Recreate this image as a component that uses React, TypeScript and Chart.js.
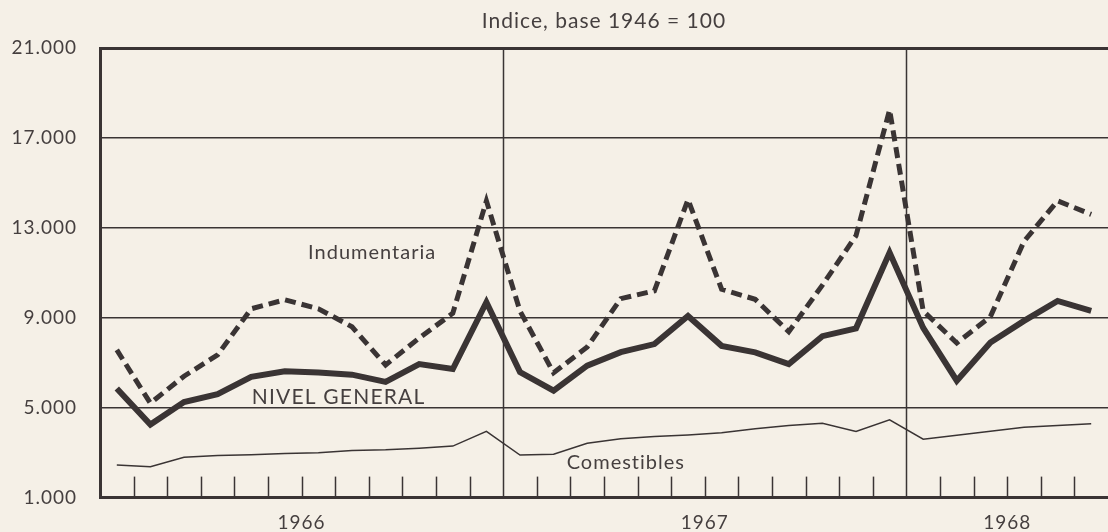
import { useEffect, useRef } from 'react';
import { Chart, registerables } from 'chart.js';

Chart.register(...registerables);

// Monthly categories, Jan 1966 – Jun 1968
const months = [
  'Ene 1966', 'Feb 1966', 'Mar 1966', 'Abr 1966', 'May 1966', 'Jun 1966',
  'Jul 1966', 'Ago 1966', 'Sep 1966', 'Oct 1966', 'Nov 1966', 'Dic 1966',
  'Ene 1967', 'Feb 1967', 'Mar 1967', 'Abr 1967', 'May 1967', 'Jun 1967',
  'Jul 1967', 'Ago 1967', 'Sep 1967', 'Oct 1967', 'Nov 1967', 'Dic 1967',
  'Ene 1968', 'Feb 1968', 'Mar 1968', 'Abr 1968', 'May 1968', 'Jun 1968',
];

const nivelGeneral = [
  5850, 4250, 5250, 5600, 6370, 6620, 6560, 6470, 6150, 6940, 6720, 9690,
  6580, 5760, 6870, 7470, 7830, 9080, 7750, 7460, 6940, 8180, 8530, 11900,
  8550, 6200, 7900, 8860, 9750, 9310,
];

const indumentaria = [
  7570, 5200, 6400, 7350, 9400, 9800, 9400, 8600, 6900, 8100, 9200, 14200,
  9300, 6550, 7700, 9850, 10200, 14260, 10270, 9820, 8380, 10450, 12650, 18250,
  9300, 7880, 9050, 12400, 14200, 13600,
];

const comestibles = [
  2450, 2370, 2790, 2870, 2910, 2960, 2990, 3100, 3130, 3200, 3290, 3950,
  2890, 2930, 3420, 3620, 3720, 3790, 3880, 4060, 4210, 4310, 3940, 4460,
  3600, 3770, 3950, 4130, 4210, 4290,
];

const yTickValues = [1000, 5000, 9000, 13000, 17000, 21000];
const yearLabels = ['1966', '1967', '1968'];
const yearLabelAt = [6, 18, 27];
const yearBoundaries = [12, 24];

const titleText = 'Indice, base 1946 = 100';

// Inline series labels (month index, value at text baseline)
const seriesLabels = [
  { text: 'Indumentaria', x: 8.1, y: 11600, size: 20, spacing: 1 },
  { text: 'NIVEL GENERAL', x: 7.1, y: 5170, size: 21, spacing: 1.2 },
  { text: 'Comestibles', x: 15.65, y: 2290, size: 20, spacing: 1 },
];

const BG = '#f5f0e7';
const INK = '#3a3434';
const TEXT = '#453f3f';
const FONT = 'Lato';

const toPoints = (vals: number[]) => vals.map((v, i) => ({ x: i + 0.5, y: v }));

const fmt = (v: number) =>
  Math.floor(v / 1000) + '.' + String(v % 1000).padStart(3, '0');

const decorPlugin = {
  id: 'decor',
  beforeDraw(chart: any) {
    const { ctx, width, height } = chart;
    ctx.save();
    ctx.fillStyle = BG;
    ctx.fillRect(0, 0, width, height);
    ctx.restore();
    try { (ctx as any).letterSpacing = '1px'; } catch (e) {}
  },
  beforeDatasetsDraw(chart: any) {
    const { ctx, chartArea, scales } = chart;
    const xs = scales.x;
    ctx.save();
    ctx.strokeStyle = INK;
    ctx.lineWidth = 1.5;
    for (let k = 1; k < months.length; k++) {
      const px = Math.round(xs.getPixelForValue(k)) + 0.5;
      ctx.beginPath();
      if (yearBoundaries.includes(k)) {
        ctx.moveTo(px, chartArea.top);
      } else {
        ctx.moveTo(px, chartArea.bottom - 21);
      }
      ctx.lineTo(px, chartArea.bottom);
      ctx.stroke();
    }
    ctx.restore();
  },
  afterDraw(chart: any) {
    const { ctx, scales } = chart;
    ctx.save();
    ctx.fillStyle = TEXT;
    ctx.textAlign = 'center';
    ctx.textBaseline = 'alphabetic';
    for (const l of seriesLabels) {
      ctx.font = `${l.size}px ${FONT}`;
      try { (ctx as any).letterSpacing = `${l.spacing}px`; } catch (e) {}
      ctx.fillText(l.text, scales.x.getPixelForValue(l.x), scales.y.getPixelForValue(l.y));
    }
    ctx.restore();
  },
};

export default function App() {
  const ref = useRef<HTMLCanvasElement | null>(null);

  useEffect(() => {
    if (!ref.current) return;
    const chart = new Chart(ref.current, {
      type: 'line',
      data: {
        labels: months,
        datasets: [
          {
            label: 'Comestibles',
            data: toPoints(comestibles),
            borderColor: INK,
            borderWidth: 1.5,
            pointRadius: 0,
            tension: 0,
          },
          {
            label: 'Nivel general',
            data: toPoints(nivelGeneral),
            borderColor: INK,
            borderWidth: 6,
            borderJoinStyle: 'miter',
            pointRadius: 0,
            tension: 0,
          },
          {
            label: 'Indumentaria',
            data: toPoints(indumentaria),
            borderColor: INK,
            borderWidth: 5,
            borderDash: [11, 6],
            borderCapStyle: 'butt',
            borderJoinStyle: 'miter',
            pointRadius: 0,
            tension: 0,
          },
        ],
      },
      options: {
        animation: false,
        responsive: false,
        maintainAspectRatio: false,
        layout: { padding: { top: 0, right: 0, bottom: 0, left: 0 } },
        plugins: {
          legend: { display: false },
          tooltip: { enabled: false },
          title: {
            display: true,
            text: titleText,
            fullSize: false,
            color: TEXT,
            font: { family: FONT, size: 21, weight: 'normal', lineHeight: 1 },
            padding: { top: 11, bottom: 16 },
          },
        },
        scales: {
          x: {
            type: 'linear',
            min: 0,
            max: months.length,
            afterBuildTicks: (scale: any) => {
              scale.ticks = yearLabelAt.map((v) => ({ value: v }));
            },
            afterFit: (scale: any) => {
              scale.height = 33;
            },
            ticks: {
              autoSkip: false,
              maxRotation: 0,
              padding: 14,
              color: TEXT,
              font: { family: FONT, size: 19 },
              callback: (v: any) => {
                const i = yearLabelAt.indexOf(Number(v));
                return i >= 0 ? yearLabels[i] : '';
              },
            },
            grid: { display: false, drawTicks: false },
            border: { display: true, color: INK, width: 3 },
          },
          y: {
            type: 'linear',
            min: 1000,
            max: 21000,
            afterBuildTicks: (scale: any) => {
              scale.ticks = yTickValues.map((v) => ({ value: v }));
            },
            afterFit: (scale: any) => {
              scale.width = 100;
            },
            ticks: {
              padding: 23,
              color: TEXT,
              font: { family: FONT, size: 19 },
              callback: (v: any) => fmt(Number(v)),
            },
            grid: {
              drawTicks: false,
              color: (c: any) => (c.tick && c.tick.value === 1000 ? 'rgba(0,0,0,0)' : INK),
              lineWidth: (c: any) => (c.tick && c.tick.value === 21000 ? 3 : 1.5),
            },
            border: { display: true, color: INK, width: 3 },
          },
        },
      },
      plugins: [decorPlugin],
    } as any);
    return () => chart.destroy();
  }, []);

  return (
    <div style={{ position: 'fixed', left: 0, top: 0, width: 1108, height: 532, background: BG }}>
      <canvas ref={ref} width={1108} height={532} style={{ display: 'block' }} />
    </div>
  );
}
